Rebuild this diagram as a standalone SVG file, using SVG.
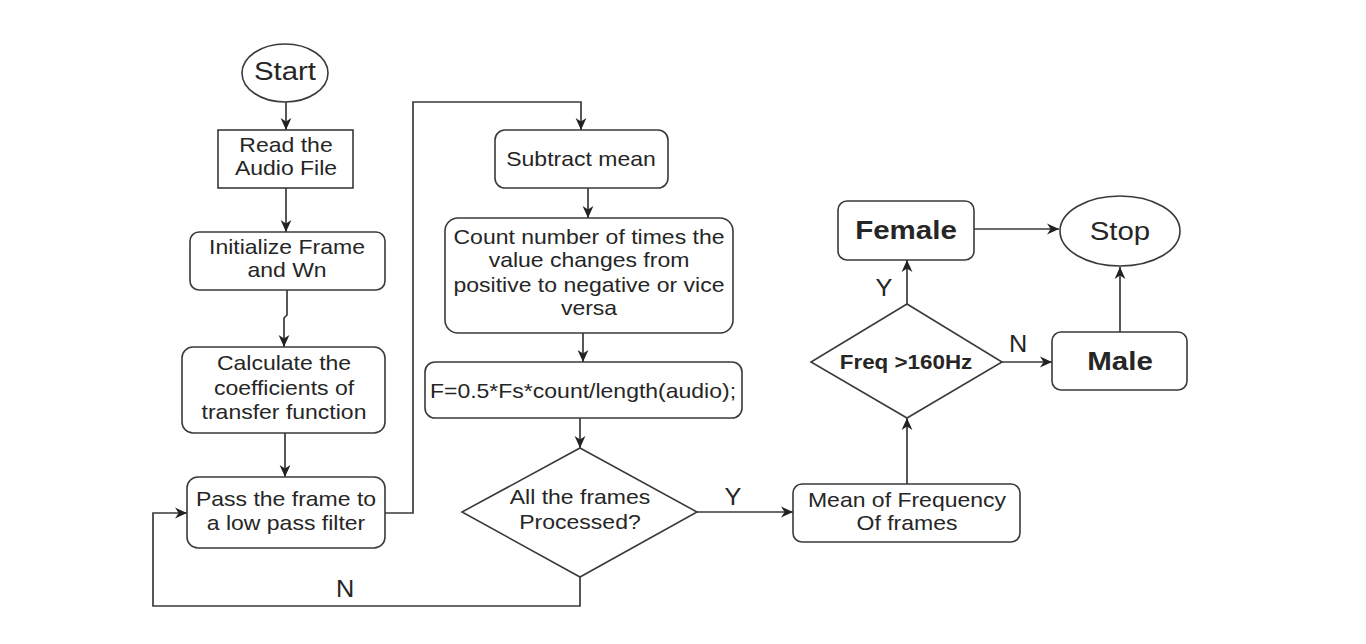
<svg xmlns="http://www.w3.org/2000/svg" width="1366" height="644" viewBox="0 0 1366 644">
  <style>
    .shape { fill: #ffffff; stroke: #3a3a3a; stroke-width: 1.6; }
    .conn { fill: none; stroke: #3a3a3a; stroke-width: 1.7; }
    text { font-family: "Liberation Sans", Arial, sans-serif; fill: #262626; text-anchor: middle; }
    .t { font-size: 20px; }
    .term { font-size: 26px; }
    .bold { font-size: 25px; font-weight: bold; }
    .dec { font-size: 20px; font-weight: bold; }
    .lbl { font-size: 23px; }
  </style>
  <defs>
    <marker id="arrow" viewBox="0 0 10 10" refX="10" refY="5" markerWidth="12" markerHeight="12" markerUnits="userSpaceOnUse" orient="auto">
      <path d="M0,0.5 L10,5 L0,9.5 L3,5 z" fill="#222222"/>
    </marker>
  </defs>
  <rect width="1366" height="644" fill="#ffffff"/>

  <g id="connectors">
    <path class="conn" d="M286,102 V130" marker-end="url(#arrow)"/>
    <path class="conn" d="M286,188 V232" marker-end="url(#arrow)"/>
    <path class="conn" d="M287,290 V315 L284,318 V347" marker-end="url(#arrow)"/>
    <path class="conn" d="M285,433 V477" marker-end="url(#arrow)"/>
    <path class="conn" d="M385,513 H413 V102 H581 V130" marker-end="url(#arrow)"/>
    <path class="conn" d="M588,188 V218" marker-end="url(#arrow)"/>
    <path class="conn" d="M583,333 V362" marker-end="url(#arrow)"/>
    <path class="conn" d="M580,418 V448" marker-end="url(#arrow)"/>
    <path class="conn" d="M580,577 V606 H153 V513 H187" marker-end="url(#arrow)"/>
    <path class="conn" d="M697,512 H793" marker-end="url(#arrow)"/>
    <path class="conn" d="M907,484 V418" marker-end="url(#arrow)"/>
    <path class="conn" d="M907,304 V260" marker-end="url(#arrow)"/>
    <path class="conn" d="M1002,362 H1052" marker-end="url(#arrow)"/>
    <path class="conn" d="M974,229 H1059" marker-end="url(#arrow)"/>
    <path class="conn" d="M1120,332 V267" marker-end="url(#arrow)"/>
    <text class="lbl" transform="translate(345,597) scale(1.1,1)">N</text>
    <text class="lbl" transform="translate(733,505) scale(1.1,1)">Y</text>
    <text class="lbl" transform="translate(884,296) scale(1.1,1)">Y</text>
    <text class="lbl" transform="translate(1018,352) scale(1.1,1)">N</text>
  </g>

  <g id="start">
    <ellipse class="shape" cx="285" cy="73" rx="43" ry="29"/>
    <text class="term" transform="translate(285,80) scale(1.13,1)">Start</text>
  </g>

  <g id="read">
    <rect class="shape" x="218" y="130" width="135" height="58"/>
    <text class="t" transform="translate(286,152) scale(1.15,1)">Read the</text>
    <text class="t" transform="translate(286,175) scale(1.15,1)">Audio File</text>
  </g>

  <g id="init">
    <rect class="shape" x="190" y="232" width="195" height="58" rx="9"/>
    <text class="t" transform="translate(287,254) scale(1.15,1)">Initialize Frame</text>
    <text class="t" transform="translate(287,277) scale(1.15,1)">and Wn</text>
  </g>

  <g id="calc">
    <rect class="shape" x="182" y="347" width="203" height="86" rx="11"/>
    <text class="t" transform="translate(284,370) scale(1.15,1)">Calculate the</text>
    <text class="t" transform="translate(284,395) scale(1.15,1)">coefficients of</text>
    <text class="t" transform="translate(284,419) scale(1.15,1)">transfer function</text>
  </g>

  <g id="pass">
    <rect class="shape" x="187" y="477" width="198" height="71" rx="11"/>
    <text class="t" transform="translate(286,506) scale(1.15,1)">Pass the frame to</text>
    <text class="t" transform="translate(286,530) scale(1.15,1)">a low pass filter</text>
  </g>

  <g id="subtract">
    <rect class="shape" x="495" y="130" width="173" height="58" rx="10"/>
    <text class="t" transform="translate(581,166) scale(1.15,1)">Subtract mean</text>
  </g>

  <g id="count">
    <rect class="shape" x="445" y="218" width="288" height="115" rx="13"/>
    <text class="t" transform="translate(589,244) scale(1.15,1)">Count number of times the</text>
    <text class="t" transform="translate(589,267) scale(1.15,1)">value changes from</text>
    <text class="t" transform="translate(589,292) scale(1.15,1)">positive to negative or vice</text>
    <text class="t" transform="translate(589,315) scale(1.15,1)">versa</text>
  </g>

  <g id="formula">
    <rect class="shape" x="425" y="362" width="317" height="56" rx="10"/>
    <text class="t" transform="translate(583,398) scale(1.15,1)">F=0.5*Fs*count/length(audio);</text>
  </g>

  <g id="allframes">
    <polygon class="shape" points="580,448 697,512 580,577 462,512"/>
    <text class="t" transform="translate(580,504) scale(1.15,1)">All the frames</text>
    <text class="t" transform="translate(580,529) scale(1.15,1)">Processed?</text>
  </g>

  <g id="mean">
    <rect class="shape" x="793" y="484" width="227" height="58" rx="9"/>
    <text class="t" transform="translate(907,507) scale(1.15,1)">Mean of Frequency</text>
    <text class="t" transform="translate(907,530) scale(1.15,1)">Of frames</text>
  </g>

  <g id="freq">
    <polygon class="shape" points="907,304 1002,362 907,418 811,362"/>
    <text class="dec" transform="translate(906,369) scale(1.12,1)">Freq &gt;160Hz</text>
  </g>

  <g id="female">
    <rect class="shape" x="838" y="201" width="136" height="59" rx="9"/>
    <text class="bold" transform="translate(906,239) scale(1.18,1)">Female</text>
  </g>

  <g id="male">
    <rect class="shape" x="1052" y="332" width="135" height="58" rx="9"/>
    <text class="bold" transform="translate(1120,370) scale(1.18,1)">Male</text>
  </g>

  <g id="stop">
    <ellipse class="shape" cx="1120" cy="231" rx="60" ry="35"/>
    <text class="term" transform="translate(1120,240) scale(1.13,1)">Stop</text>
  </g>
</svg>
